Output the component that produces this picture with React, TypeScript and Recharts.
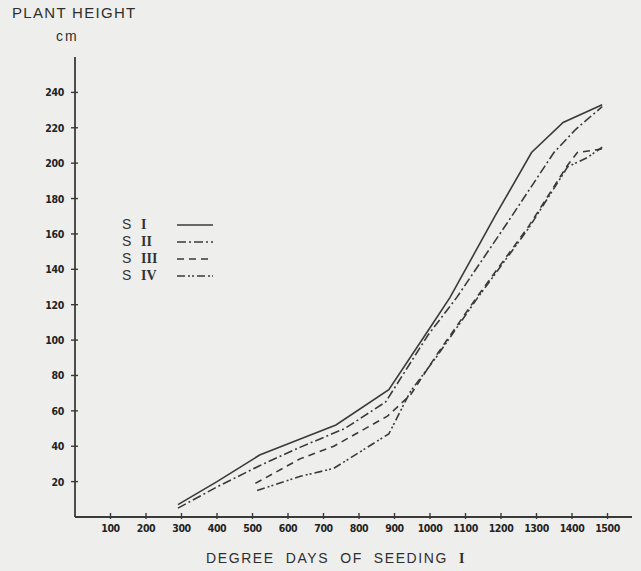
import React from "react";
import { LineChart, Line, XAxis, YAxis } from "recharts";

const xTicks = [100, 200, 300, 400, 500, 600, 700, 800, 900, 1000, 1100, 1200, 1300, 1400, 1500];
const yTicks = [20, 40, 60, 80, 100, 120, 140, 160, 180, 200, 220, 240];

const seriesI = [
  { x: 290, y: 7 }, { x: 400, y: 20 }, { x: 520, y: 35 }, { x: 640, y: 44.5 },
  { x: 735, y: 52 }, { x: 884, y: 72 }, { x: 1000, y: 107 }, { x: 1056, y: 124 },
  { x: 1183, y: 170 }, { x: 1286, y: 206 }, { x: 1375, y: 223 }, { x: 1485, y: 233 },
];
const seriesII = [
  { x: 290, y: 5 }, { x: 400, y: 17 }, { x: 520, y: 29 }, { x: 635, y: 39.5 },
  { x: 760, y: 50 }, { x: 875, y: 65 }, { x: 995, y: 103 }, { x: 1075, y: 124 },
  { x: 1217, y: 166 }, { x: 1349, y: 206 }, { x: 1410, y: 219 }, { x: 1485, y: 232 },
];
const seriesIII = [
  { x: 508, y: 19 }, { x: 635, y: 33 }, { x: 729, y: 40 }, { x: 880, y: 57 },
  { x: 945, y: 69 }, { x: 1020, y: 92 }, { x: 1131, y: 124 }, { x: 1277, y: 164 },
  { x: 1388, y: 199 }, { x: 1415, y: 206 }, { x: 1485, y: 208 },
];
const seriesIV = [
  { x: 513, y: 15 }, { x: 635, y: 23 }, { x: 729, y: 27.5 }, { x: 884, y: 47 },
  { x: 945, y: 71 }, { x: 1020, y: 91 }, { x: 1131, y: 123 }, { x: 1277, y: 163 },
  { x: 1388, y: 198 }, { x: 1442, y: 203 }, { x: 1485, y: 209 },
];

const legendItems = [
  { s: "S", n: "I", dash: "" },
  { s: "S", n: "II", dash: "9 3 2 3" },
  { s: "S", n: "III", dash: "7 5" },
  { s: "S", n: "IV", dash: "8 3 2 2 2 3" },
];

const INK = "#3a3a3a";
const TICK_FONT = "'Liberation Sans Narrow', 'DejaVu Sans Condensed', 'Liberation Sans', sans-serif";
const TITLE_FONT = "'Liberation Sans', Arial, sans-serif";

const YTick = (props: any) => {
  const { x, y, payload } = props;
  return (
    <g>
      <line x1={x - 4} x2={x + 3} y1={y} y2={y} stroke={INK} strokeWidth={1.4} />
      <text x={x - 11} y={y} dy={4} textAnchor="end" fontFamily={TICK_FONT} fontWeight="bold" fontSize={10.5} letterSpacing={-0.3} fill="#222">
        {payload.value}
      </text>
    </g>
  );
};

const XTick = (props: any) => {
  const { x, y, payload } = props;
  return (
    <g>
      <line x1={x} x2={x} y1={y - 4} y2={y + 2} stroke={INK} strokeWidth={1.4} />
      <text x={x} y={y + 15} textAnchor="middle" fontFamily={TICK_FONT} fontWeight="bold" fontSize={10.5} letterSpacing={-0.4} fill="#222">
        {payload.value}
      </text>
    </g>
  );
};

export default function App() {
  return (
    <div style={{ position: "absolute", left: 0, top: 0, width: 641, height: 571, background: "#eeeeec", overflow: "hidden" }}>
      <div style={{ position: "absolute", left: 12, top: 4, fontFamily: TITLE_FONT, fontSize: 15, letterSpacing: 1.3, color: "#2e2e2e" }}>
        PLANT HEIGHT
      </div>
      <div style={{ position: "absolute", left: 56, top: 28, fontFamily: TITLE_FONT, fontSize: 14, letterSpacing: 2, color: "#2e2e2e" }}>
        cm
      </div>
      <div style={{ position: "absolute", left: 206, top: 550, fontFamily: TITLE_FONT, fontSize: 14, letterSpacing: 1.6, color: "#2e2e2e", whiteSpace: "nowrap" }}>
        DEGREE&nbsp; DAYS&nbsp; OF&nbsp; SEEDING&nbsp; <span style={{ fontFamily: "'Liberation Serif', serif", fontWeight: "bold" }}>I</span>
      </div>
      <LineChart
        width={641}
        height={571}
        margin={{ top: 57, right: 9, bottom: 24, left: 15 }}
        style={{ position: "absolute", left: 0, top: 0 }}
      >
        <XAxis
          type="number"
          dataKey="x"
          domain={[0, 1569]}
          ticks={xTicks}
          interval={0}
          height={30}
          tickSize={0}
          tickMargin={0}
          tickLine={false}
          tick={<XTick />}
          axisLine={{ stroke: INK, strokeWidth: 1.8 }}
          allowDataOverflow
        />
        <YAxis
          type="number"
          dataKey="y"
          domain={[0, 260]}
          ticks={yTicks}
          interval={0}
          width={60}
          tickSize={0}
          tickMargin={0}
          tickLine={false}
          tick={<YTick />}
          axisLine={{ stroke: INK, strokeWidth: 1.8 }}
          allowDataOverflow
        />
        <Line data={seriesI} dataKey="y" name="S I" type="linear" stroke={INK} strokeWidth={1.6} dot={false} isAnimationActive={false} />
        <Line data={seriesII} dataKey="y" name="S II" type="linear" stroke={INK} strokeWidth={1.6} strokeDasharray="9 3 2 3" dot={false} isAnimationActive={false} />
        <Line data={seriesIII} dataKey="y" name="S III" type="linear" stroke={INK} strokeWidth={1.6} strokeDasharray="7 5" dot={false} isAnimationActive={false} />
        <Line data={seriesIV} dataKey="y" name="S IV" type="linear" stroke={INK} strokeWidth={1.6} strokeDasharray="8 3 2 2 2 3" dot={false} isAnimationActive={false} />
      </LineChart>
      <div style={{ position: "absolute", left: 122, top: 216, fontFamily: TITLE_FONT, color: "#333" }}>
        {legendItems.map((it) => (
          <div key={it.n} style={{ display: "flex", alignItems: "center", height: 17, lineHeight: "15px" }}>
            <span style={{ width: 19, fontSize: 14 }}>{it.s}</span>
            <span style={{ width: 36, fontSize: 14, fontFamily: "'Liberation Serif', serif", fontWeight: "bold" }}>{it.n}</span>
            <svg width={38} height={10}>
              <line x1={0} x2={36} y1={5} y2={5} stroke={INK} strokeWidth={1.6} strokeDasharray={it.dash || undefined} />
            </svg>
          </div>
        ))}
      </div>
    </div>
  );
}
